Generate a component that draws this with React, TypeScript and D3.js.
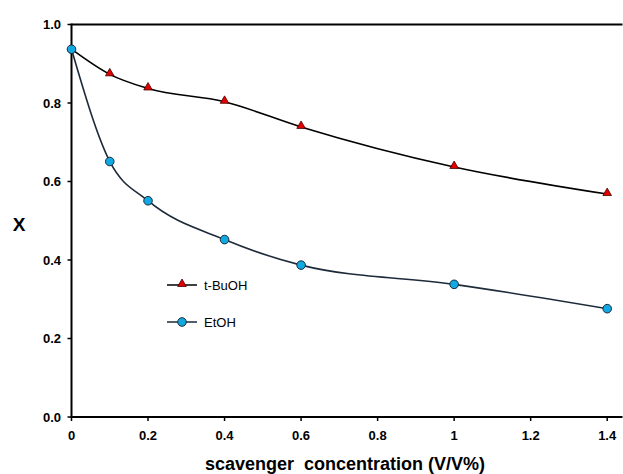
import React from "react";
import * as d3 from "d3";

const xValues = [0, 0.1, 0.2, 0.4, 0.6, 1.0, 1.4];
const tBuOH = [0.937, 0.873, 0.837, 0.803, 0.739, 0.637, 0.568];
const EtOH = [0.937, 0.651, 0.551, 0.452, 0.387, 0.338, 0.276];
const xTicks = [0, 0.2, 0.4, 0.6, 0.8, 1.0, 1.2, 1.4];
const xTickLabels = ["0", "0.2", "0.4", "0.6", "0.8", "1", "1.2", "1.4"];
const yTicks = [0, 0.2, 0.4, 0.6, 0.8, 1.0];
const seriesNames = ["t-BuOH", "EtOH"];

const W = 623;
const H = 474;
const font = "Liberation Sans, Arial, sans-serif";

export default function App() {
  const x = d3.scaleLinear().domain([0, 1.44]).range([71.5, 622.5]);
  const y = d3.scaleLinear().domain([0, 1]).range([417, 24.5]);
  const line = d3
    .line<[number, number]>()
    .x((d) => x(d[0]))
    .y((d) => y(d[1]))
    .curve(d3.curveMonotoneX);
  const tData = xValues.map((v, i) => [v, tBuOH[i]] as [number, number]);
  const eData = xValues.map((v, i) => [v, EtOH[i]] as [number, number]);
  const tri = d3.symbol().type(d3.symbolTriangle).size(32);
  const blue = "#12a9e3";
  const red = "#e30000";
  const navy = "#1c2a3a";

  return (
    <svg
      width={W}
      height={H}
      style={{ position: "absolute", left: 0, top: 0, background: "#fff" }}
    >
      {/* frame */}
      <line x1={x(0)} x2={622.5} y1={y(1)} y2={y(1)} stroke="#000" strokeWidth={2} />
      <line x1={x(0)} x2={622.5} y1={y(0)} y2={y(0)} stroke="#000" strokeWidth={2} />
      <line x1={x(0)} x2={x(0)} y1={y(1) - 1} y2={y(0) + 1} stroke="#000" strokeWidth={2} />
      {/* y ticks */}
      {yTicks.map((t) => (
        <g key={"y" + t}>
          <line x1={x(0) - 4} x2={x(0)} y1={y(t)} y2={y(t)} stroke="#000" strokeWidth={1.5} />
          <text
            x={61}
            y={y(t) + 4.5}
            textAnchor="end"
            fontFamily={font}
            fontWeight="bold"
            fontSize={13}
          >
            {t.toFixed(1)}
          </text>
        </g>
      ))}
      {/* x ticks */}
      {xTicks.map((t, i) => (
        <g key={"x" + t}>
          <line x1={x(t)} x2={x(t)} y1={y(0)} y2={y(0) + 4} stroke="#000" strokeWidth={1.5} />
          <text
            x={x(t)}
            y={440}
            textAnchor="middle"
            fontFamily={font}
            fontWeight="bold"
            fontSize={13}
          >
            {xTickLabels[i]}
          </text>
        </g>
      ))}
      {/* axis titles */}
      <text
        x={345}
        y={470}
        textAnchor="middle"
        fontFamily={font}
        fontWeight="bold"
        fontSize={18}
        style={{ whiteSpace: "pre" }}
      >
        {"scavenger  concentration (V/V%)"}
      </text>
      <text
        x={19}
        y={231}
        textAnchor="middle"
        fontFamily={font}
        fontWeight="bold"
        fontSize={19}
      >
        X
      </text>
      {/* lines */}
      <path d={line(tData) || ""} fill="none" stroke="#000" strokeWidth={1.6} />
      <path d={line(eData) || ""} fill="none" stroke={navy} strokeWidth={1.6} />
      {/* markers */}
      {tData.slice(1).map((d, i) => (
        <path
          key={"t" + i}
          d={tri() || ""}
          transform={`translate(${x(d[0])},${y(d[1]) - 1})`}
          fill={red}
          stroke="#400"
          strokeWidth={0.8}
        />
      ))}
      {eData.map((d, i) => (
        <circle
          key={"e" + i}
          cx={x(d[0])}
          cy={y(d[1])}
          r={4.3}
          fill={blue}
          stroke="#1a2a3a"
          strokeWidth={1}
        />
      ))}
      {/* legend */}
      <line x1={167} x2={197} y1={285} y2={285} stroke="#000" strokeWidth={1.5} />
      <path d={tri() || ""} transform="translate(182,284)" fill={red} stroke="#400" strokeWidth={0.8} />
      <text x={204} y={289.5} fontFamily={font} fontSize={13}>
        {seriesNames[0]}
      </text>
      <line x1={167} x2={197} y1={322} y2={322} stroke={navy} strokeWidth={1.5} />
      <circle cx={182} cy={322} r={4.3} fill={blue} stroke="#1a2a3a" strokeWidth={1} />
      <text x={204} y={326.5} fontFamily={font} fontSize={13}>
        {seriesNames[1]}
      </text>
    </svg>
  );
}
